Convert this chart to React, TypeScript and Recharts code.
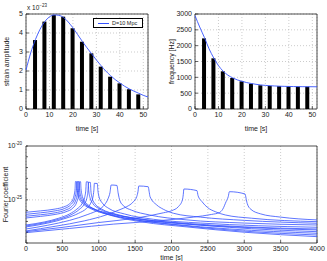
import React from 'react';
import {
  Bar,
  CartesianGrid,
  ComposedChart,
  Label,
  Legend,
  Line,
  LineChart,
  ReferenceArea,
  ReferenceLine,
  XAxis,
  YAxis,
} from 'recharts';

const FONT = '"Liberation Sans", Arial, sans-serif';
const BLUE = '#3552ff';
const INK = '#222';

// top panels (time in seconds)
const curveTimes = [0, 2, 4, 6, 8, 10, 12, 14, 16, 18, 20, 22, 24, 26, 28, 30, 32, 34, 36, 38, 40, 42, 44, 46, 48, 50, 52];
const strainCurve = [2.05, 2.95, 3.65, 4.2, 4.6, 4.85, 4.95, 4.93, 4.82, 4.58, 4.27, 3.92, 3.56, 3.22, 2.9, 2.58, 2.28, 2.0, 1.76, 1.55, 1.37, 1.2, 1.06, 0.94, 0.83, 0.72, 0.63];
const frequencyCurve = [2950, 2590, 2260, 1900, 1610, 1370, 1195, 1070, 985, 920, 875, 835, 805, 780, 760, 745, 735, 727, 720, 715, 712, 709, 707, 705, 704, 703, 702];
const barTimes = [4, 8, 12, 16, 20, 24, 28, 32, 36, 40, 44, 48];
const strainBars = [3.63, 4.6, 4.95, 4.86, 4.25, 3.54, 2.93, 2.23, 1.7, 1.35, 1.04, 0.77];
const frequencyBars = [2230, 1600, 1190, 980, 875, 800, 750, 730, 720, 712, 708, 705];
const timeTicks = [0, 10, 20, 30, 40, 50];
const strainTicks = [0, 1, 2, 3, 4, 5];
const frequencyTicks = [0, 500, 1000, 1500, 2000, 2500, 3000];

// bottom panel: [x, log10 of Fourier coefficient]
const fourierTicks = [0, 500, 1000, 1500, 2000, 2500, 3000, 3500, 4000];
const decadeTicks = [-29, -28, -27, -26, -25, -24, -23, -22, -21, -20];
const labelledDecades = [-20, -25];

const peak680 = [[0, -26.15], [200, -26.02], [400, -25.85], [520, -25.65], [600, -25.35], [645, -24.95], [665, -24.45], [675, -23.95], [680, -23.3], [695, -23.32], [700, -23.95], [712, -24.5], [735, -24.95], [790, -25.4], [900, -25.85], [1100, -26.3], [1500, -26.85], [2000, -27.25], [2800, -27.7], [4000, -28.1]];
const peak700 = [[0, -26.34], [200, -26.2], [400, -26.02], [530, -25.8], [615, -25.45], [662, -25.0], [683, -24.5], [694, -23.95], [700, -23.3], [712, -23.32], [718, -23.95], [730, -24.5], [755, -24.95], [810, -25.4], [920, -25.8], [1100, -26.2], [1500, -26.7], [2000, -27.1], [2800, -27.55], [4000, -27.95]];
const peak718 = [[0, -26.52], [200, -26.38], [400, -26.2], [540, -25.95], [630, -25.6], [680, -25.1], [702, -24.55], [712, -23.95], [718, -23.3], [730, -23.32], [736, -23.95], [748, -24.5], [772, -24.95], [830, -25.45], [950, -25.9], [1150, -26.35], [1550, -26.9], [2100, -27.35], [2900, -27.85], [4000, -28.26]];
const peak738 = [[0, -26.68], [200, -26.53], [400, -26.35], [550, -26.1], [645, -25.75], [698, -25.2], [722, -24.6], [732, -23.95], [738, -23.3], [750, -23.32], [756, -23.95], [768, -24.5], [795, -25.0], [860, -25.5], [980, -26.0], [1200, -26.5], [1600, -27.05], [2200, -27.5], [3000, -28.0], [4000, -28.41]];
const peak830 = [[0, -27.33], [250, -27.05], [450, -26.7], [600, -26.3], [700, -25.85], [770, -25.35], [805, -24.8], [822, -24.1], [830, -23.32], [855, -23.34], [862, -24.1], [880, -24.8], [920, -25.35], [1000, -25.8], [1200, -26.3], [1600, -26.85], [2200, -27.25], [3000, -27.55], [4000, -27.79]];
const peak860 = [[0, -27.42], [250, -27.13], [450, -26.8], [620, -26.38], [730, -25.9], [800, -25.4], [836, -24.85], [852, -24.15], [860, -23.36], [885, -23.38], [892, -24.15], [910, -24.85], [952, -25.4], [1040, -25.85], [1250, -26.35], [1650, -26.85], [2250, -27.2], [3000, -27.5], [4000, -27.7]];
const peak940 = [[0, -27.51], [300, -27.15], [550, -26.7], [720, -26.25], [830, -25.8], [890, -25.3], [920, -24.75], [933, -24.1], [940, -23.46], [980, -23.48], [988, -24.1], [1005, -24.75], [1050, -25.3], [1140, -25.8], [1350, -26.3], [1750, -26.8], [2400, -27.15], [3200, -27.4], [4000, -27.54]];
const peak1170 = [[0, -27.7], [300, -27.35], [600, -26.9], [850, -26.35], [1000, -25.9], [1080, -25.45], [1130, -24.85], [1155, -24.3], [1170, -23.62], [1250, -23.66], [1265, -24.3], [1292, -25.1], [1350, -25.6], [1450, -25.95], [1700, -26.4], [2200, -26.85], [3000, -27.15], [4000, -27.33]];
const peak1550 = [[0, -27.88], [400, -27.45], [800, -26.95], [1100, -26.4], [1292, -25.9], [1384, -25.63], [1476, -25.17], [1522, -24.7], [1540, -24.2], [1550, -23.71], [1680, -23.78], [1692, -24.2], [1705, -24.7], [1797, -25.47], [1888, -25.87], [2026, -26.24], [2400, -26.6], [3000, -26.9], [4000, -27.17]];
const peak2170 = [[0, -27.95], [500, -27.55], [1000, -27.1], [1500, -26.7], [1888, -26.2], [2003, -26.0], [2094, -25.63], [2150, -25.0], [2162, -24.5], [2170, -23.99], [2350, -24.14], [2365, -24.6], [2420, -25.17], [2494, -25.7], [2600, -26.09], [2740, -26.4], [3100, -26.7], [4000, -27.02]];
const peak2796 = [[0, -28.04], [600, -27.65], [1200, -27.25], [1800, -26.95], [2300, -26.6], [2550, -26.35], [2658, -26.18], [2704, -25.87], [2750, -25.17], [2780, -24.7], [2796, -24.24], [3011, -24.45], [3025, -24.85], [3040, -25.32], [3090, -25.87], [3226, -26.3], [3502, -26.6], [4000, -26.86]];

const fourierLines = [peak680, peak700, peak718, peak738, peak830, peak860, peak940, peak1170, peak1550, peak2170, peak2796];

const strainData = curveTimes.map((t, i) => {
  const b = barTimes.indexOf(t);
  return { t, curve: strainCurve[i], bar: b >= 0 ? strainBars[b] : null };
});
const frequencyData = curveTimes.map((t, i) => {
  const b = barTimes.indexOf(t);
  return { t, curve: frequencyCurve[i], bar: b >= 0 ? frequencyBars[b] : null };
});

const tickText = { fontSize: 7, fontFamily: FONT, fill: INK, stroke: 'none' };
const labelStyle = { fontSize: 7, fontFamily: FONT, fill: INK, stroke: 'none', textAnchor: 'middle' as const };

// matlab style: ticks point into the plot, on all four sides
function XTick({ x, y, payload }: any) {
  return (
    <g>
      <line x1={x} x2={x} y1={y - 3} y2={y - 6} stroke={INK} strokeWidth={0.7} />
      <text x={x} y={y} dy="0.71em" textAnchor="middle" {...tickText}>{payload.value}</text>
    </g>
  );
}

function TopTick({ x, y }: any) {
  return <line x1={x} x2={x} y1={y} y2={y + 3} stroke={INK} strokeWidth={0.7} />;
}

function YTick({ x, y, payload }: any) {
  return (
    <g>
      <line x1={x + 3} x2={x + 6} y1={y} y2={y} stroke={INK} strokeWidth={0.7} />
      <text x={x} y={y} dy="0.35em" textAnchor="end" {...tickText}>{payload.value}</text>
    </g>
  );
}

function RightTick({ x, y }: any) {
  return <line x1={x} x2={x - 3} y1={y} y2={y} stroke={INK} strokeWidth={0.7} />;
}

function DecadeTick({ x, y, payload }: any) {
  const show = labelledDecades.includes(payload.value);
  return (
    <g>
      <line x1={x + 3} x2={x + 5} y1={y} y2={y} stroke={INK} strokeWidth={0.7} />
      {show && (
        <text x={x - 1} y={y} dy="0.35em" textAnchor="end" {...tickText}>
          10<tspan dy={-3} fontSize={4.5}>{payload.value}</tspan>
        </text>
      )}
    </g>
  );
}

function LegendBox() {
  return (
    <div style={{ border: '0.8px solid #000', background: '#fff', height: 8, display: 'flex', alignItems: 'center', fontFamily: FONT, fontSize: 5.5, color: INK }}>
      <span style={{ display: 'inline-block', width: 11, height: 1, background: BLUE, margin: '0 3px 0 4px' }} />
      D=10 Mpc
    </div>
  );
}

export default function App() {
  return (
    <div style={{ position: 'relative', width: 327, height: 261, background: '#fff', overflow: 'hidden' }}>
      <style>{'body { margin: 0; overflow: hidden; }'}</style>
      <div style={{ position: 'absolute', left: 0, top: 0 }}>
        <ComposedChart width={160} height={135} data={strainData} margin={{ top: 14, right: 12, bottom: 0, left: 0 }}>
          <CartesianGrid stroke="#aaa" strokeDasharray="1 2" strokeWidth={0.6} />
          <XAxis dataKey="t" type="number" domain={[0, 52]} ticks={timeTicks} interval={0} tick={<XTick />} tickSize={0} tickMargin={3} axisLine={false} height={26}>
            <Label value="time [s]" position="insideBottom" offset={4} style={labelStyle} />
          </XAxis>
          <XAxis xAxisId="top" orientation="top" dataKey="t" type="number" domain={[0, 52]} ticks={timeTicks} interval={0} tick={<TopTick />} tickSize={0} tickMargin={0} axisLine={false} height={0} />
          <YAxis type="number" domain={[0, 5]} ticks={strainTicks} interval={0} tick={<YTick />} tickSize={0} tickMargin={3} axisLine={false} width={26}>
            <Label value="strain amplitude" angle={-90} position="insideLeft" offset={7} style={labelStyle} />
          </YAxis>
          <YAxis yAxisId="right" orientation="right" type="number" domain={[0, 5]} ticks={strainTicks} interval={0} tick={<RightTick />} tickSize={0} tickMargin={0} axisLine={false} width={0} />
          <Bar dataKey="bar" fill="#000" barSize={4} isAnimationActive={false} />
          <Line dataKey="curve" type="monotone" stroke={BLUE} strokeWidth={0.9} dot={false} isAnimationActive={false} />
          <ReferenceArea x1={0} x2={52} y1={0} y2={5} fill="none" stroke={INK} strokeWidth={0.8} />
          <Legend verticalAlign="middle" layout="horizontal" wrapperStyle={{ top: 18, left: 93, width: 50 }} content={() => <LegendBox />} />
        </ComposedChart>
        <div style={{ position: 'absolute', left: 27, top: 1, fontFamily: FONT, fontSize: 6.5, lineHeight: '9px', color: INK, whiteSpace: 'nowrap', zIndex: 2 }}>
          x 10<sup style={{ fontSize: 4.5, verticalAlign: 3 }}>−23</sup>
        </div>
      </div>

      <div style={{ position: 'absolute', left: 160, top: 0 }}>
        <ComposedChart width={167} height={135} data={frequencyData} margin={{ top: 14, right: 10, bottom: 0, left: 0 }}>
          <CartesianGrid stroke="#aaa" strokeDasharray="1 2" strokeWidth={0.6} />
          <XAxis dataKey="t" type="number" domain={[0, 52]} ticks={timeTicks} interval={0} tick={<XTick />} tickSize={0} tickMargin={3} axisLine={false} height={26}>
            <Label value="time [s]" position="insideBottom" offset={4} style={labelStyle} />
          </XAxis>
          <XAxis xAxisId="top" orientation="top" dataKey="t" type="number" domain={[0, 52]} ticks={timeTicks} interval={0} tick={<TopTick />} tickSize={0} tickMargin={0} axisLine={false} height={0} />
          <YAxis type="number" domain={[0, 3000]} ticks={frequencyTicks} interval={0} tick={<YTick />} tickSize={0} tickMargin={3} axisLine={false} width={35}>
            <Label value="frequency [Hz]" angle={-90} position="insideLeft" offset={12} style={labelStyle} />
          </YAxis>
          <YAxis yAxisId="right" orientation="right" type="number" domain={[0, 3000]} ticks={frequencyTicks} interval={0} tick={<RightTick />} tickSize={0} tickMargin={0} axisLine={false} width={0} />
          <Bar dataKey="bar" fill="#000" barSize={4} isAnimationActive={false} />
          <Line dataKey="curve" type="monotone" stroke={BLUE} strokeWidth={0.9} dot={false} isAnimationActive={false} />
          <ReferenceArea x1={0} x2={52} y1={0} y2={3000} fill="none" stroke={INK} strokeWidth={0.8} />
        </ComposedChart>
      </div>

      <div style={{ position: 'absolute', left: 0, top: 135 }}>
        <LineChart width={327} height={126} margin={{ top: 11, right: 10, bottom: 0, left: 0 }}>
          <CartesianGrid stroke="#aaa" strokeDasharray="1 2" strokeWidth={0.6} horizontal={false} />
          <XAxis dataKey="x" type="number" domain={[0, 4000]} ticks={fourierTicks} interval={0} tick={<XTick />} tickSize={0} tickMargin={3} axisLine={false} height={18}>
            <Label value="time [s]" position="insideBottom" offset={1} style={labelStyle} />
          </XAxis>
          <XAxis xAxisId="top" orientation="top" dataKey="x" type="number" domain={[0, 4000]} ticks={fourierTicks} interval={0} tick={<TopTick />} tickSize={0} tickMargin={0} axisLine={false} height={0} />
          <YAxis dataKey="y" type="number" domain={[-29, -20]} ticks={decadeTicks} interval={0} tick={<DecadeTick />} tickSize={0} tickMargin={3} axisLine={false} width={26}>
            <Label value="Fourier coefficient" angle={-90} position="insideLeft" offset={6} style={labelStyle} />
          </YAxis>
          <YAxis yAxisId="right" orientation="right" type="number" domain={[-29, -20]} ticks={decadeTicks} interval={0} tick={<RightTick />} tickSize={0} tickMargin={0} axisLine={false} width={0} />
          <ReferenceLine y={-25} stroke="#aaa" strokeDasharray="1 2" strokeWidth={0.6} />
          {fourierLines.map((pts, i) => (
            <Line
              key={i}
              data={pts.map(([x, y]) => ({ x, y }))}
              dataKey="y"
              type="monotone"
              stroke={BLUE}
              strokeWidth={0.8}
              dot={false}
              isAnimationActive={false}
            />
          ))}
          <ReferenceArea x1={0} x2={4000} y1={-29} y2={-20} fill="none" stroke={INK} strokeWidth={0.8} />
        </LineChart>
      </div>
    </div>
  );
}
